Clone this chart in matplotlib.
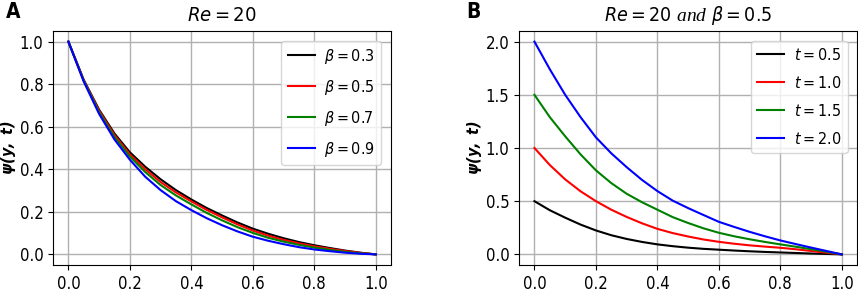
import matplotlib
matplotlib.use("Agg")
import matplotlib.pyplot as plt
import numpy as np

plt.rcParams['font.stretch'] = 'condensed'
plt.rcParams['mathtext.fontset'] = 'custom'
plt.rcParams['mathtext.it'] = 'DejaVu Sans:italic:stretch=condensed'
plt.rcParams['mathtext.rm'] = 'DejaVu Sans:stretch=condensed'
plt.rcParams['mathtext.bf'] = 'DejaVu Sans:bold:italic:stretch=condensed'
plt.rcParams['mathtext.cal'] = 'Liberation Serif:italic'
plt.rcParams['font.size'] = 12

# y positions (read at 0.05 steps)
y = [0.00, 0.05, 0.10, 0.15, 0.20, 0.25, 0.30, 0.35, 0.40, 0.45, 0.50,
     0.55, 0.60, 0.65, 0.70, 0.75, 0.80, 0.85, 0.90, 0.95, 1.00]

# panel A: Re = 20, different beta
beta_labels = ['0.3', '0.5', '0.7', '0.9']
psi_b03 = [1.000, 0.820, 0.680, 0.568, 0.480, 0.412, 0.353, 0.302, 0.258, 0.218, 0.183,
           0.150, 0.121, 0.097, 0.076, 0.058, 0.043, 0.030, 0.018, 0.008, 0.000]
psi_b05 = [1.000, 0.818, 0.675, 0.561, 0.470, 0.400, 0.340, 0.291, 0.249, 0.209, 0.174,
           0.141, 0.112, 0.088, 0.068, 0.052, 0.038, 0.026, 0.016, 0.007, 0.000]
psi_b07 = [1.000, 0.816, 0.668, 0.552, 0.460, 0.387, 0.326, 0.277, 0.235, 0.195, 0.160,
           0.128, 0.101, 0.078, 0.060, 0.045, 0.032, 0.021, 0.012, 0.005, 0.000]
psi_b09 = [1.000, 0.812, 0.660, 0.540, 0.445, 0.365, 0.302, 0.250, 0.208, 0.170, 0.137,
           0.108, 0.083, 0.064, 0.048, 0.034, 0.023, 0.015, 0.008, 0.003, 0.000]

# panel B: Re = 20, beta = 0.5, different t
t_labels = ['0.5', '1.0', '1.5', '2.0']
psi_t05 = [0.500, 0.415, 0.345, 0.280, 0.225, 0.180, 0.145, 0.117, 0.094, 0.077, 0.063,
           0.052, 0.044, 0.036, 0.029, 0.023, 0.018, 0.013, 0.008, 0.004, 0.000]
psi_t10 = [1.000, 0.840, 0.705, 0.593, 0.500, 0.420, 0.352, 0.292, 0.240, 0.200, 0.168,
           0.140, 0.118, 0.100, 0.085, 0.073, 0.062, 0.048, 0.032, 0.016, 0.000]
psi_t15 = [1.500, 1.290, 1.110, 0.940, 0.790, 0.670, 0.570, 0.490, 0.420, 0.350, 0.295,
           0.245, 0.203, 0.170, 0.142, 0.117, 0.094, 0.072, 0.049, 0.025, 0.000]
psi_t20 = [2.000, 1.740, 1.500, 1.290, 1.100, 0.950, 0.820, 0.700, 0.595, 0.505, 0.435,
           0.370, 0.306, 0.258, 0.212, 0.170, 0.131, 0.097, 0.064, 0.032, 0.000]

colors = ['black', 'red', 'green', 'blue']

fig = plt.figure(figsize=(8.58, 2.94), dpi=100)
axA = fig.add_axes([0.0618, 0.0986, 0.394, 0.796])
axB = fig.add_axes([0.605, 0.0986, 0.394, 0.796])

for vals, lab, c in zip([psi_b03, psi_b05, psi_b07, psi_b09], beta_labels, colors):
    axA.plot(y, vals, color=c, lw=1.5, label=r'$\beta = %s$' % lab)
for vals, lab, c in zip([psi_t05, psi_t10, psi_t15, psi_t20], t_labels, colors):
    axB.plot(y, vals, color=c, lw=1.5, label=r'$t = %s$' % lab)

axA.set_title(r'$Re = 20$', fontsize=14.5, pad=7)
axB.set_title(r'$Re = 20$ $\mathcal{and}$ $\beta = 0.5$', fontsize=14, pad=7)
axA.set_yticks([0.0, 0.2, 0.4, 0.6, 0.8, 1.0])
axB.set_yticks([0.0, 0.5, 1.0, 1.5, 2.0])

for ax in (axA, axB):
    ax.set_xticks([0.0, 0.2, 0.4, 0.6, 0.8, 1.0])
    ax.grid(True, color='#b0b0b0', lw=1)
    ax.set_ylabel(r'$\mathbf{\psi(y,\ t)}$', fontsize=11.5)
    ax.yaxis.set_label_coords(-0.104, 0.5)
    ax.tick_params(labelsize=12)
    ax.legend(loc='upper right', fontsize=11.5, handlelength=1.7,
              handletextpad=0.6, labelspacing=0.75, borderaxespad=0.6)

fig.text(0.007, 0.94, 'A', fontsize=15, fontweight='bold')
fig.text(0.543, 0.94, 'B', fontsize=15, fontweight='bold')

fig.savefig('out.png', dpi=100)
